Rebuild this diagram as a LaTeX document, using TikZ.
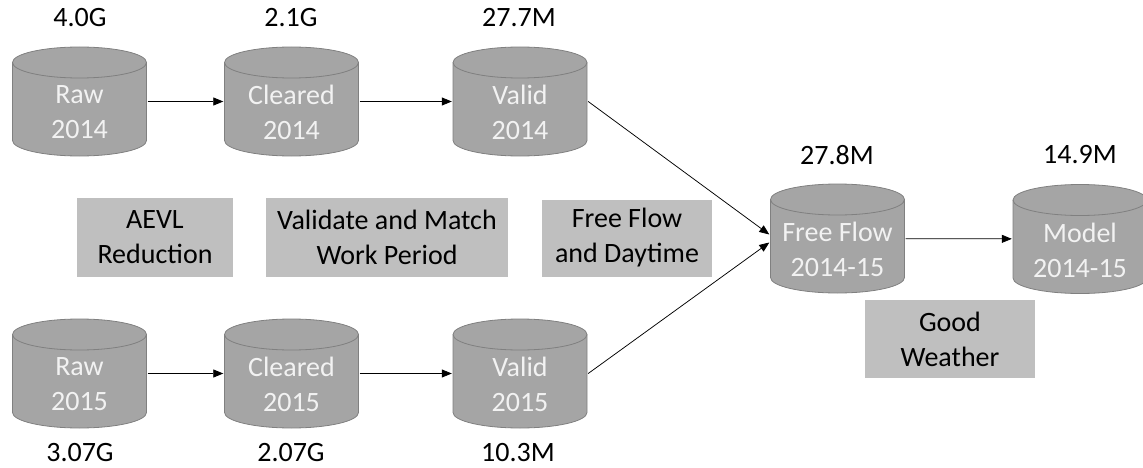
\documentclass[tikz,border=0pt]{standalone}
\usepackage{fontspec}
\setmainfont{Carlito}
\usetikzlibrary{arrows.meta}
\definecolor{dbfill}{HTML}{A5A5A5}
\definecolor{dbline}{HTML}{808080}
\definecolor{dbtext}{HTML}{F2F2F2}
\definecolor{stepfill}{HTML}{BFBFBF}
\tikzset{
  db/.style={minimum width=136pt, minimum height=111pt, inner sep=0pt,
    path picture={
      \begin{scope}[shift={(path picture bounding box.center)}]
        \draw[dbline, fill=dbfill, line width=0.8pt] (-67,39) -- (-67,-39)
          arc[start angle=180, end angle=360, x radius=67pt, y radius=15.5pt] -- (67,39)
          arc[start angle=0, end angle=180, x radius=67pt, y radius=15.5pt] -- cycle;
        \draw[dbline, line width=0.8pt] (-67,39)
          arc[start angle=180, end angle=360, x radius=67pt, y radius=15.5pt];
      \end{scope}}},
  dbtxt/.style={text=dbtext, align=center, yshift=-11pt},
  sizetxt/.style={inner sep=0pt},
  stepbox/.style={fill=stepfill, align=center, inner sep=0pt},
  flow/.style={-{Triangle[length=10pt,width=8pt]}, line width=0.75pt}
}
\begin{document}
\begin{tikzpicture}[x=1pt,y=1pt,font=\fontsize{28}{35}\selectfont]
\useasboundingbox (0,0) rectangle (1143,467);

% 2014 data sets
\node[db, label={[dbtxt]center:Raw\\2014}] (raw14) at (79.5,365.5) {};
\node[db, label={[dbtxt]center:Cleared\\2014}] (cl14) at (291.5,365.5) {};
\node[db, label={[dbtxt]center:Valid\\2014}] (val14) at (520,365.5) {};

% 2015 data sets
\node[db, label={[dbtxt]center:Raw\\2015}] (raw15) at (79.5,93.5) {};
\node[db, label={[dbtxt]center:Cleared\\2015}] (cl15) at (291.5,93.5) {};
\node[db, label={[dbtxt]center:Valid\\2015}] (val15) at (520,93.5) {};

% merged data sets
\node[db, label={[dbtxt]center:Free Flow\\2014-15}] (ff) at (837.5,228.5) {};
\node[db, label={[dbtxt]center:Model\\2014-15}] (mod) at (1080,228) {};

% sizes
\node[sizetxt] (s-raw14) at (80,449) {4.0G};
\node[sizetxt] (s-cl14) at (291,449) {2.1G};
\node[sizetxt] (s-val14) at (519,449) {27.7M};
\node[sizetxt] (s-raw15) at (80,14) {3.07G};
\node[sizetxt] (s-cl15) at (291,14) {2.07G};
\node[sizetxt] (s-val15) at (518,14) {10.3M};
\node[sizetxt] (s-ff) at (837,312) {27.8M};
\node[sizetxt] (s-mod) at (1080,312) {14.9M};

% processing steps
\node[stepbox, minimum width=156pt, minimum height=79pt] (aevl) at (155,229.5) {AEVL\\Reduction};
\node[stepbox, minimum width=242pt, minimum height=79pt] (match) at (387,229.5) {Validate and Match\\Work Period};
\node[stepbox, minimum width=170pt, minimum height=77pt] (daytime) at (627,229) {Free Flow\\and Daytime};
\node[stepbox, minimum width=170pt, minimum height=78pt] (weather) at (950,128) {Good\\Weather};

% flows
\draw[flow] (raw14) -- (cl14);
\draw[flow] (cl14) -- (val14);
\draw[flow] (raw15) -- (cl15);
\draw[flow] (cl15) -- (val15);
\draw[flow] (val14.east) -- ([yshift=4pt]ff.west);
\draw[flow] (val15.east) -- ([yshift=-4pt]ff.west);
\draw[flow] (ff) -- (mod);
\end{tikzpicture}
\end{document}
